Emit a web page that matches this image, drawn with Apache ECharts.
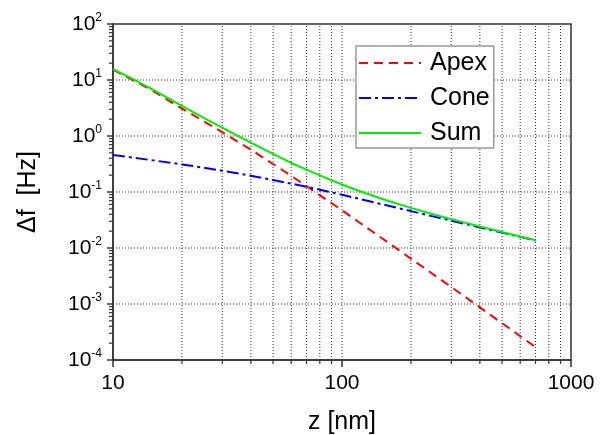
<!DOCTYPE html>
<html>
<head>
<meta charset="utf-8">
<script src="https://cdn.jsdelivr.net/npm/echarts@6/dist/echarts.min.js"></script>
<style>
  html, body { margin: 0; padding: 0; background: #fff; }
  #chart { width: 606px; height: 435px; }
</style>
</head>
<body>
<div id="chart"></div>
<script>
// Tip–sample distance z [nm]
const zValues = [10, 12, 15, 20, 25, 30, 40, 50, 60, 70, 80, 100, 120, 150, 200, 250, 300, 400, 500, 600, 700];
// Frequency shift contributions Δf [Hz]
const apexValues = [15.3, 10.4, 6.3, 3.09, 1.82, 1.17, 0.569, 0.316, 0.194, 0.127, 0.0879, 0.0472, 0.0279, 0.0148, 0.00646, 0.0034, 0.00201, 0.000871, 0.000455, 0.000267, 0.00017];
const coneValues = [0.458, 0.415, 0.367, 0.311, 0.271, 0.240, 0.195, 0.164, 0.141, 0.124, 0.110, 0.0893, 0.075, 0.0601, 0.0456, 0.0367, 0.0308, 0.0233, 0.0188, 0.0158, 0.0136];
const sumValues = [15.6, 10.8, 6.67, 3.45, 2.09, 1.41, 0.76, 0.478, 0.33, 0.251, 0.198, 0.136, 0.103, 0.0749, 0.0521, 0.0401, 0.0328, 0.0242, 0.0193, 0.0161, 0.0138];

const seriesNames = ['Apex', 'Cone', 'Sum'];

// Axis ranges and decorations
const xRange = [10, 1000];
const yRange = [1e-4, 1e2];
const xGridValues = [20, 30, 40, 50, 60, 70, 80, 90, 100, 200, 300, 400, 500, 600, 700, 800, 900];
const yGridValues = [1e-3, 1e-2, 1e-1, 1, 10];
const xMinorTicks = [20, 30, 40, 50, 60, 70, 80, 90, 200, 300, 400, 500, 600, 700, 800, 900];
const yMinorTicks = [];
for (let e = -4; e < 2; e++) {
  for (let m = 2; m <= 9; m++) yMinorTicks.push(m * Math.pow(10, e));
}

const pair = (xs, ys) => xs.map((x, i) => [x, ys[i]]);

const axisColor = '#333';
const gridColor = '#333';
const fontFamily = '"Liberation Sans", Arial, sans-serif';

const chart = echarts.init(document.getElementById('chart'), null, { renderer: 'canvas' });

const option = {
  animation: false,
  backgroundColor: '#fff',
  grid: {
    left: 113, right: 35, top: 24, bottom: 75,
    outerBoundsMode: 'none', containLabel: false,
    show: true, borderColor: axisColor, borderWidth: 1.5, backgroundColor: 'transparent'
  },
  legend: {
    data: seriesNames,
    orient: 'vertical',
    left: 356, top: 46,
    itemWidth: 62, itemHeight: 14, itemGap: 5,
    padding: [2, 4, 0, 2],
    backgroundColor: '#fff',
    borderColor: '#999', borderWidth: 1.5,
    itemStyle: { color: 'rgba(0,0,0,0)', borderWidth: 0, opacity: 0 },
    textStyle: { fontFamily, fontSize: 25, color: '#000', lineHeight: 30, padding: [0, 0, 0, 4] },
    selectedMode: false
  },
  xAxis: {
    type: 'log', logBase: 10, min: xRange[0], max: xRange[1], splitNumber: 2,
    name: 'z [nm]', nameLocation: 'middle', nameGap: 50,
    nameTextStyle: { fontFamily, fontSize: 25, color: '#000' },
    axisLine: { show: true, lineStyle: { color: axisColor, width: 1.5 } },
    axisTick: { show: true, length: 7, lineStyle: { color: axisColor, width: 1.5 } },
    axisLabel: { fontFamily, fontSize: 21, color: '#000', margin: 13, formatter: (v) => String(Math.round(v)) },
    splitLine: { show: false }
  },
  yAxis: {
    type: 'log', logBase: 10, min: yRange[0], max: yRange[1], splitNumber: 6,
    name: 'Δf  [Hz]', nameLocation: 'middle', nameGap: 72, nameRotate: 90,
    nameTextStyle: { fontFamily, fontSize: 25, color: '#000' },
    axisLine: { show: true, lineStyle: { color: axisColor, width: 1.5 } },
    axisTick: { show: true, length: 6, lineStyle: { color: axisColor, width: 1.5 } },
    axisLabel: {
      margin: 11,
      formatter: (v) => '{b|10}{s|' + Math.round(Math.log10(v)) + '}',
      rich: {
        b: { fontFamily, fontSize: 21, color: '#000', lineHeight: 24 },
        s: { fontFamily, fontSize: 12, color: '#000', lineHeight: 12, verticalAlign: 'top' }
      }
    },
    splitLine: { show: false }
  },
  series: [
    {
      // dotted grid lines
      type: 'custom', silent: true, z: 1,
      data: xGridValues.map(v => [v, 0]).concat(yGridValues.map(v => [1, v])),
      renderItem: (params, api) => {
        const a = api.value(0), b = api.value(1);
        let p1, p2;
        if (b === 0) {
          p1 = api.coord([a, yRange[0]]); p2 = api.coord([a, yRange[1]]);
        } else {
          p1 = api.coord([xRange[0], b]); p2 = api.coord([xRange[1], b]);
        }
        return {
          type: 'line',
          shape: { x1: p1[0], y1: p1[1], x2: p2[0], y2: p2[1] },
          style: { stroke: gridColor, lineWidth: 1, lineDash: [1, 2] }
        };
      }
    },
    {
      // minor ticks on both axes
      type: 'custom', silent: true, z: 3,
      data: xMinorTicks.map(v => [v, 0]).concat(yMinorTicks.map(v => [1, v])),
      renderItem: (params, api) => {
        const a = api.value(0), b = api.value(1);
        let shape;
        if (b === 0) {
          const p = api.coord([a, yRange[0]]);
          shape = { x1: p[0], y1: p[1], x2: p[0], y2: p[1] + 4 };
        } else {
          const p = api.coord([xRange[0], b]);
          shape = { x1: p[0] - 4, y1: p[1], x2: p[0], y2: p[1] };
        }
        return { type: 'line', shape, style: { stroke: axisColor, lineWidth: 1.2 } };
      }
    },
    {
      name: 'Apex', type: 'line', data: pair(zValues, apexValues),
      showSymbol: false, symbol: 'none', z: 4,
      lineStyle: { color: '#ff0000', width: 2, type: [9, 6] },
      itemStyle: { color: '#ff0000' }
    },
    {
      name: 'Cone', type: 'line', data: pair(zValues, coneValues),
      showSymbol: false, symbol: 'none', z: 4,
      lineStyle: { color: '#0000ff', width: 2, type: [12, 4, 3, 4] },
      itemStyle: { color: '#0000ff' }
    },
    {
      name: 'Sum', type: 'line', data: pair(zValues, sumValues),
      showSymbol: false, symbol: 'none', z: 5,
      lineStyle: { color: '#00ee00', width: 2, type: 'solid' },
      itemStyle: { color: '#00ee00' }
    }
  ]
};

chart.setOption(option);
</script>
</body>
</html>
